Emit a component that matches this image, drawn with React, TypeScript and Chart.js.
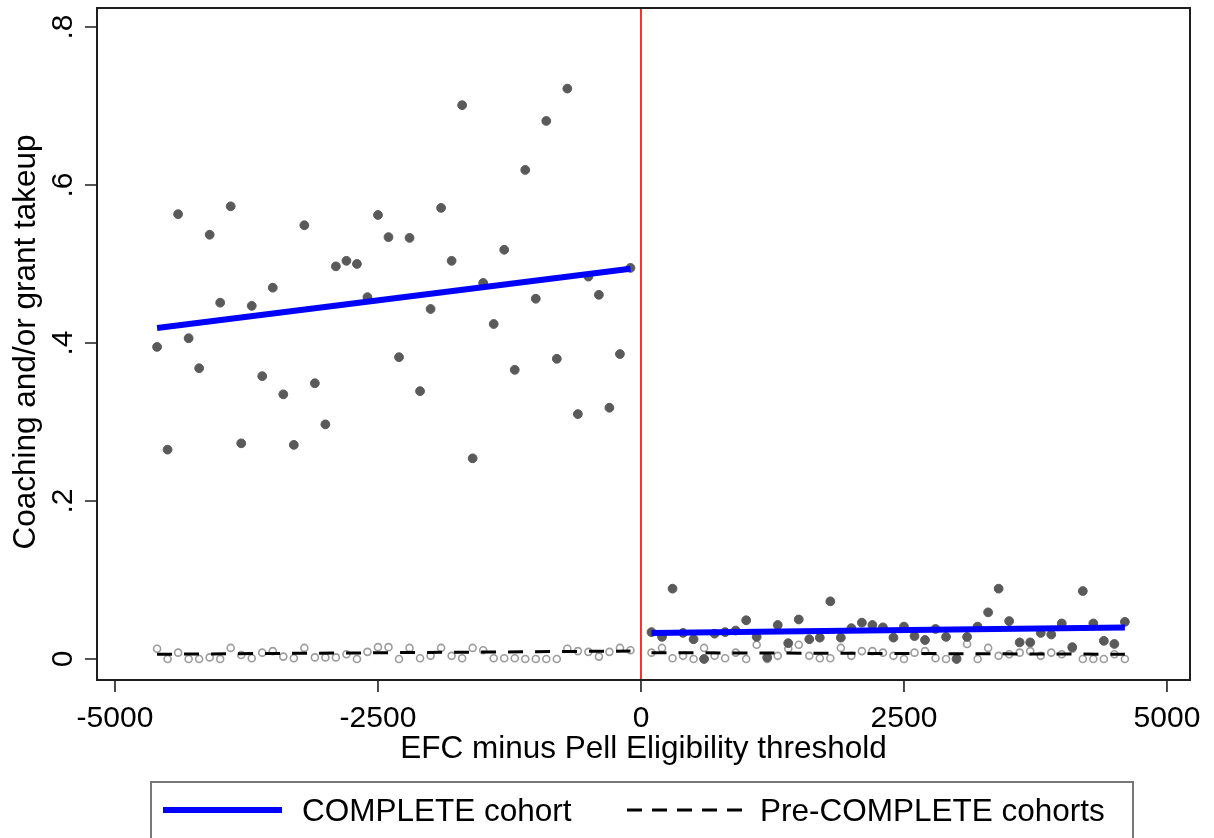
import React, { useEffect, useRef } from "react";
import { Chart, registerables } from "chart.js";

Chart.register(...registerables);

// ---- Data ----
const binsLeft = [
  -4600, -4500, -4400, -4300, -4200, -4100, -4000, -3900, -3800, -3700,
  -3600, -3500, -3400, -3300, -3200, -3100, -3000, -2900, -2800, -2700,
  -2600, -2500, -2400, -2300, -2200, -2100, -2000, -1900, -1800, -1700,
  -1600, -1500, -1400, -1300, -1200, -1100, -1000, -900, -800, -700,
  -600, -500, -400, -300, -200, -100,
];
const binsRight = [
  100, 200, 300, 400, 500, 600, 700, 800, 900, 1000,
  1100, 1200, 1300, 1400, 1500, 1600, 1700, 1800, 1900, 2000,
  2100, 2200, 2300, 2400, 2500, 2600, 2700, 2800, 2900, 3000,
  3100, 3200, 3300, 3400, 3500, 3600, 3700, 3800, 3900, 4000,
  4100, 4200, 4300, 4400, 4500, 4600,
];

// COMPLETE cohort (filled markers)
const completeLeft = [
  0.395, 0.265, 0.563, 0.406, 0.368, 0.537, 0.451, 0.573, 0.273, 0.447,
  0.358, 0.470, 0.335, 0.271, 0.549, 0.349, 0.297, 0.497, 0.504, 0.500,
  0.458, 0.562, 0.534, 0.382, 0.533, 0.339, 0.443, 0.571, 0.504, 0.701,
  0.254, 0.476, 0.424, 0.518, 0.366, 0.619, 0.456, 0.681, 0.380, 0.722,
  0.310, 0.484, 0.461, 0.318, 0.386, 0.495,
];
const completeRight = [
  0.034, 0.028, 0.089, 0.033, 0.025, 0.000, 0.032, 0.034, 0.036, 0.049,
  0.028, 0.002, 0.043, 0.020, 0.050, 0.025, 0.027, 0.073, 0.027, 0.039,
  0.046, 0.043, 0.040, 0.027, 0.041, 0.029, 0.024, 0.038, 0.028, 0.000,
  0.028, 0.041, 0.059, 0.089, 0.048, 0.021, 0.021, 0.033, 0.031, 0.045,
  0.015, 0.086, 0.045, 0.023, 0.019, 0.047,
];

// Pre-COMPLETE cohorts (hollow markers)
const preLeft = [
  0.013, 0.000, 0.008, 0.000, 0.000, 0.002, 0.000, 0.014, 0.005, 0.001,
  0.008, 0.010, 0.003, 0.001, 0.014, 0.002, 0.002, 0.002, 0.006, 0.000,
  0.009, 0.015, 0.015, 0.000, 0.014, 0.001, 0.004, 0.014, 0.004, 0.001,
  0.014, 0.011, 0.001, 0.001, 0.001, 0.000, 0.000, 0.000, 0.000, 0.013,
  0.010, 0.009, 0.003, 0.009, 0.014, 0.011,
];
const preRight = [
  0.008, 0.014, 0.001, 0.004, 0.000, 0.014, 0.004, 0.001, 0.008, 0.000,
  0.018, 0.000, 0.004, 0.013, 0.018, 0.004, 0.001, 0.001, 0.014, 0.004,
  0.010, 0.010, 0.008, 0.004, 0.000, 0.008, 0.010, 0.001, 0.000, 0.001,
  0.019, 0.000, 0.014, 0.004, 0.006, 0.008, 0.010, 0.004, 0.008, 0.006,
  0.013, 0.000, 0.000, 0.000, 0.006, 0.000,
];

// Linear fits (endpoints)
const fitLeftX = [-4600, -100];
const fitRightX = [100, 4600];
const completeFitLeft = [0.419, 0.494];
const completeFitRight = [0.033, 0.040];
const preFitLeft = [0.006, 0.010];
const preFitRight = [0.008, 0.006];

// Axes
const xTicks = [-5000, -2500, 0, 2500, 5000];
const xTickLabels = ["-5000", "-2500", "0", "2500", "5000"];
const yTicks = [0, 0.2, 0.4, 0.6, 0.8];
const yTickLabels = ["0", ".2", ".4", ".6", ".8"];
const xTitle = "EFC minus Pell Eligibility threshold";
const yTitle = "Coaching and/or grant takeup";
const legendLabels = ["COMPLETE cohort", "Pre-COMPLETE cohorts"];
const cutoff = 0;

const FONT = "'Liberation Sans', Arial, Helvetica, sans-serif";

function pts(xs: number[], ys: number[]) {
  return xs.map((x, i) => ({ x, y: ys[i] }));
}

export default function App() {
  const ref = useRef<HTMLCanvasElement>(null);

  useEffect(() => {
    const canvas = ref.current;
    if (!canvas) return;

    const decor = {
      id: "decor",
      beforeDatasetsDraw(chart: any) {
        const { ctx, chartArea, scales } = chart;
        const x0 = scales.x.getPixelForValue(cutoff);
        ctx.save();
        ctx.strokeStyle = "#ff0000";
        ctx.lineWidth = 1.6;
        ctx.beginPath();
        ctx.moveTo(x0, chartArea.top);
        ctx.lineTo(x0, chartArea.bottom);
        ctx.stroke();
        ctx.restore();
      },
      afterDraw(chart: any) {
        const { ctx, chartArea, scales } = chart;
        const { left, right, top, bottom } = chartArea;
        const xs = scales.x;
        const ys = scales.y;
        ctx.save();
        // frame
        ctx.strokeStyle = "#1e1e1e";
        ctx.lineWidth = 2;
        ctx.strokeRect(left, top, right - left, bottom - top);

        // ticks
        ctx.lineWidth = 1.6;
        ctx.beginPath();
        xTicks.forEach((v) => {
          const px = xs.getPixelForValue(v);
          ctx.moveTo(px, bottom);
          ctx.lineTo(px, bottom + 12);
        });
        yTicks.forEach((v) => {
          const py = ys.getPixelForValue(v);
          ctx.moveTo(left, py);
          ctx.lineTo(left - 12, py);
        });
        ctx.stroke();

        ctx.fillStyle = "#000";
        // x tick labels
        ctx.font = `30px ${FONT}`;
        ctx.textAlign = "center";
        ctx.textBaseline = "alphabetic";
        xTicks.forEach((v, i) => {
          ctx.fillText(xTickLabels[i], xs.getPixelForValue(v), 727);
        });
        // x title
        ctx.font = `31.5px ${FONT}`;
        ctx.fillText(xTitle, (left + right) / 2, 758);

        // y tick labels (rotated)
        ctx.font = `30px ${FONT}`;
        yTicks.forEach((v, i) => {
          const py = ys.getPixelForValue(v);
          ctx.save();
          ctx.translate(72, py);
          ctx.rotate(-Math.PI / 2);
          ctx.textAlign = "center";
          ctx.fillText(yTickLabels[i], 0, 0);
          ctx.restore();
        });
        // y title
        ctx.save();
        ctx.font = `31.5px ${FONT}`;
        ctx.translate(35, (top + bottom) / 2 - 2);
        ctx.rotate(-Math.PI / 2);
        ctx.textAlign = "center";
        ctx.fillText(yTitle, 0, 0);
        ctx.restore();

        // legend
        ctx.strokeStyle = "#777";
        ctx.lineWidth = 2;
        ctx.strokeRect(151, 782, 982, 100);
        ctx.strokeStyle = "#0000ff";
        ctx.lineWidth = 6;
        ctx.beginPath();
        ctx.moveTo(163, 810);
        ctx.lineTo(282, 810);
        ctx.stroke();
        ctx.strokeStyle = "#000";
        ctx.lineWidth = 3;
        ctx.setLineDash([15, 10]);
        ctx.beginPath();
        ctx.moveTo(627, 810);
        ctx.lineTo(743, 810);
        ctx.stroke();
        ctx.setLineDash([]);
        ctx.font = `31.5px ${FONT}`;
        ctx.textAlign = "left";
        ctx.fillStyle = "#000";
        ctx.fillText(legendLabels[0], 302, 821);
        ctx.fillText(legendLabels[1], 760, 821);
        ctx.restore();
      },
    };

    const filledStyle = {
      showLine: false,
      pointRadius: 4.4,
      pointBorderWidth: 1,
      pointBackgroundColor: "#5a5a5a",
      pointBorderColor: "#5a5a5a",
      pointHoverRadius: 4.4,
    };
    const hollowStyle = {
      showLine: false,
      pointRadius: 3.5,
      pointBorderWidth: 1.6,
      pointBackgroundColor: "rgba(0,0,0,0)",
      pointBorderColor: "#9c9c9c",
      pointHoverRadius: 3.5,
    };
    const blueLine = {
      showLine: true,
      borderColor: "#0000ff",
      borderWidth: 6,
      pointRadius: 0,
      fill: false,
    };
    const dashLine = {
      showLine: true,
      borderColor: "#000000",
      borderWidth: 3,
      borderDash: [15, 12],
      pointRadius: 0,
      fill: false,
    };

    const chart = new Chart(canvas, {
      type: "scatter",
      data: {
        datasets: [
          { label: "COMPLETE fit L", data: pts(fitLeftX, completeFitLeft), order: 1, ...blueLine },
          { label: "COMPLETE fit R", data: pts(fitRightX, completeFitRight), order: 1, ...blueLine },
          { label: "Pre fit L", data: pts(fitLeftX, preFitLeft), order: 2, ...dashLine },
          { label: "Pre fit R", data: pts(fitRightX, preFitRight), order: 2, ...dashLine },
          { label: "COMPLETE L", data: pts(binsLeft, completeLeft), order: 3, ...filledStyle },
          { label: "COMPLETE R", data: pts(binsRight, completeRight), order: 3, ...filledStyle },
          { label: "Pre L", data: pts(binsLeft, preLeft), order: 4, ...hollowStyle },
          { label: "Pre R", data: pts(binsRight, preRight), order: 4, ...hollowStyle },
        ] as any,
      },
      options: {
        responsive: false,
        animation: false,
        devicePixelRatio: 1,
        events: [],
        layout: { padding: { left: 97, top: 8, right: 24, bottom: 158 } },
        scales: {
          x: { type: "linear", display: false, min: -5171, max: 5219 },
          y: { type: "linear", display: false, min: -0.0266, max: 0.824 },
        },
        plugins: {
          legend: { display: false },
          tooltip: { enabled: false },
          title: { display: false },
        },
      },
      plugins: [decor],
    });

    return () => chart.destroy();
  }, []);

  return (
    <div
      style={{
        position: "absolute",
        left: 0,
        top: 0,
        width: 1214,
        height: 838,
        background: "#ffffff",
        overflow: "hidden",
      }}
    >
      <canvas
        ref={ref}
        width={1214}
        height={838}
        style={{ display: "block", width: 1214, height: 838 }}
      />
    </div>
  );
}
